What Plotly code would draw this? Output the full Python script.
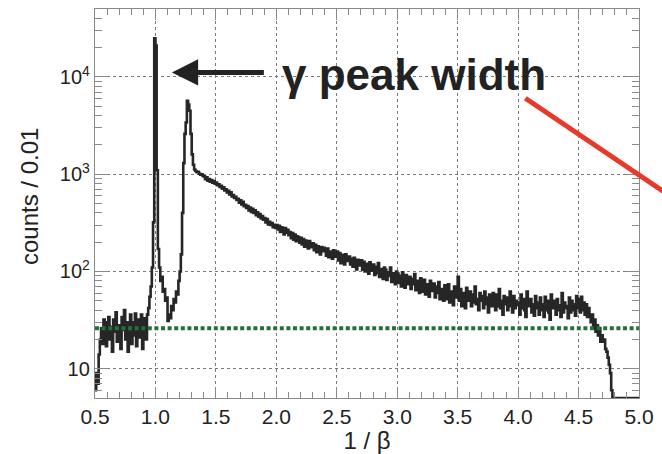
import numpy as np
import plotly.graph_objects as go

# ---------------- data ----------------
BIN_START = 0.50
BIN_WIDTH = 0.01
# counts per 0.01 bin of 1/beta, bins from 0.50 to 5.00 (450 bins)
counts = [
    # 0.50
    6, 9, 7, 14, 20, 26, 18, 32, 22, 17,
    # 0.60
    30, 34, 20, 27, 15, 32, 24, 38, 19, 28,
    # 0.70
    22, 16, 34, 25, 40, 20, 30, 15, 28, 36,
    # 0.80
    18, 30, 22, 37, 17, 32, 21, 29, 36, 16,
    # 0.90
    28, 33, 20, 36, 42, 55, 70, 110, 320, 25000,
    # 1.00
    21000, 1100, 170, 110, 80, 88, 62, 66, 50, 54,
    # 1.10
    31, 36, 33, 44, 40, 52, 48, 62, 58, 80,
    # 1.20
    100, 150, 400, 1300, 2600, 3400, 5700, 5200, 4500, 2600,
    # 1.30
    1600, 1250, 1120, 1080, 1050, 1060, 1010, 990, 1000, 960,
    # 1.40
    950, 890, 930, 860, 890, 840, 870, 820, 850, 800,
    # 1.50
    820, 770, 790, 740, 760, 710, 735, 680, 700, 650,
    # 1.60
    675, 620, 650, 590, 610, 570, 585, 545, 560, 510,
    # 1.70
    540, 490, 520, 470, 485, 450, 470, 425, 455, 410,
    # 1.80
    440, 400, 425, 380, 405, 365, 390, 350, 372, 340,
    # 1.90
    355, 320, 345, 305, 325, 300, 315, 285, 302, 280,
    # 2.00
    300, 270, 295, 255, 285, 262, 240, 280, 250, 268,
    # 2.10
    236, 255, 220, 248, 212, 240, 205, 230, 225, 198,
    # 2.20
    222, 190, 215, 180, 208, 196, 172, 205, 185, 178,
    # 2.30
    195, 165, 188, 158, 182, 170, 150, 178, 162, 175,
    # 2.40
    168, 145, 172, 140, 160, 152, 135, 165, 142, 155,
    # 2.50
    160, 130, 155, 122, 148, 138, 118, 150, 128, 140,
    # 2.60
    142, 118, 135, 112, 138, 122, 105, 132, 115, 128,
    # 2.70
    130, 104, 126, 100, 120, 110, 95, 124, 102, 115,
    # 2.80
    118, 92, 112, 96, 122, 88, 106, 98, 84, 110,
    # 2.90
    104, 82, 98, 90, 110, 78, 96, 86, 74, 100,
    # 3.00
    95, 76, 90, 70, 98, 82, 68, 92, 74, 86,
    # 3.10
    88, 66, 84, 74, 94, 64, 80, 70, 60, 85,
    # 3.20
    78, 62, 82, 58, 74, 68, 55, 80, 63, 72,
    # 3.30
    75, 54, 70, 60, 78, 52, 66, 58, 50, 72,
    # 3.40
    64, 52, 74, 48, 62, 58, 45, 70, 54, 60,
    # 3.50
    88, 50, 66, 44, 60, 56, 42, 68, 50, 58,
    # 3.60
    62, 44, 58, 48, 70, 46, 52, 40, 60, 50,
    # 3.70
    56, 42, 62, 46, 54, 38, 58, 48, 44, 60,
    # 3.80
    52, 40, 58, 44, 66, 42, 50, 36, 56, 46,
    # 3.90
    54, 40, 48, 62, 44, 38, 56, 42, 50, 45,
    # 4.00
    48, 36, 58, 42, 52, 40, 34, 62, 44, 50,
    # 4.10
    52, 38, 46, 35, 56, 42, 48, 36, 54, 40,
    # 4.20
    46, 34, 55, 40, 50, 38, 32, 58, 42, 48,
    # 4.30
    50, 36, 52, 40, 45, 34, 60, 38, 48, 42,
    # 4.40
    44, 33, 54, 38, 50, 40, 46, 35, 56, 42,
    # 4.50
    52, 38, 55, 40, 48, 36, 46, 34, 42, 36,
    # 4.60
    30, 36, 26, 32, 24, 28, 22, 26, 19, 22,
    # 4.70
    19, 20, 16, 15, 13, 11, 9, 6, 0, 0,
    # 4.80
    0, 0, 0, 0, 0, 0, 0, 0, 0, 0,
    # 4.90
    0, 0, 0, 0, 0, 0, 0, 0, 0, 0,
]
threshold = 26          # green dotted level
x_tickvals = [0.5, 1.0, 1.5, 2.0, 2.5, 3.0, 3.5, 4.0, 4.5, 5.0]
x_ticktext = ["0.5", "1.0", "1.5", "2.0", "2.5", "3.0", "3.5", "4.0", "4.5", "5.0"]
y_tickvals = [10, 100, 1000, 10000]
y_ticktext = ["10", "10<sup>2</sup>", "10<sup>3</sup>", "10<sup>4</sup>"]
annotation_text = "γ peak width"
x_title = "1 / β"
y_title = "counts / 0.01"

# ---------------- figure ----------------
X_MIN, X_MAX = 0.5, 5.0
Y_MIN, Y_MAX = 5, 50000

n = len(counts)
edges = np.round(BIN_START + BIN_WIDTH * np.arange(n + 1), 4)
vals = np.array(counts, dtype=float)
vals = np.where(vals > 0, vals, Y_MIN)      # empty bins drawn on the floor (ROOT style)
step_y = np.append(vals, vals[-1])

FONT = "Liberation Sans, Arial, Helvetica, sans-serif"
AX_COL = "#8a8a8a"
TXT = "#222222"

fig = go.Figure()
fig.add_trace(go.Scatter(
    x=edges, y=step_y, mode="lines", line=dict(shape="hv", color="#262626", width=2.6),
    hoverinfo="skip", showlegend=False))
fig.add_trace(go.Scatter(
    x=[X_MIN, X_MAX], y=[threshold, threshold], mode="lines",
    line=dict(color="#25703a", width=4, dash="4px,2.6px"),
    hoverinfo="skip", showlegend=False))

axis_common = dict(
    showline=True, linecolor=AX_COL, linewidth=1.3, mirror="ticks",
    ticks="inside", tickcolor=AX_COL, tickwidth=1.2,
    showgrid=True, gridcolor="#7a7a7a", griddash="dot", gridwidth=1,
    zeroline=False,
)

fig.update_xaxes(
    **axis_common, range=[X_MIN, X_MAX], tickmode="array",
    tickvals=x_tickvals, ticktext=x_ticktext, ticklen=11,
    tickfont=dict(family=FONT, size=21, color=TXT),
    minor=dict(dtick=0.1, ticks="inside", ticklen=6, tickcolor=AX_COL, tickwidth=1.2, showgrid=False),
    title=dict(text=x_title, font=dict(family=FONT, size=24, color=TXT), standoff=1),
)
fig.update_yaxes(
    **axis_common, type="log", range=[np.log10(Y_MIN), np.log10(Y_MAX)], tickmode="array",
    tickvals=y_tickvals, ticktext=y_ticktext, ticklen=13,
    tickfont=dict(family=FONT, size=20, color=TXT),
    minor=dict(dtick="D1", ticks="inside", ticklen=7, tickcolor=AX_COL, tickwidth=1.2, showgrid=False),
)

# y-axis title placed as rotated text
fig.add_annotation(
    xref="paper", yref="paper", x=(28 - 95) / 552, y=(399 - 196) / 391,
    xanchor="center", yanchor="middle", textangle=-90, text=y_title, showarrow=False,
    font=dict(family=FONT, size=24, color=TXT),
)
# arrow
fig.add_annotation(
    xref="paper", yref="paper", x=0.1413, y=0.837, text=" ",
    showarrow=True, arrowhead=2, arrowsize=1.05, arrowwidth=5, arrowcolor=TXT,
    ax=95, ay=0, standoff=0,
)
# label
fig.add_annotation(
    xref="paper", yref="paper", x=(282.5 - 95) / 552, y=(399 - 74) / 391,
    xanchor="left", yanchor="middle", text="<b>" + annotation_text + "</b>",
    showarrow=False, font=dict(family=FONT, size=44, color=TXT),
)
# red line
fig.add_shape(
    type="line", xref="paper", yref="paper",
    x0=(531.7 - 95) / 552, y0=(399 - 97.7) / 391,
    x1=(680 - 95) / 552, y1=(399 - 197) / 391,
    line=dict(color="#e8392b", width=5),
)

fig.update_layout(
    width=662, height=454,
    margin=dict(l=95, r=15, t=8, b=55),
    paper_bgcolor="white", plot_bgcolor="white",
    font=dict(family=FONT, color=TXT),
    showlegend=False,
)

fig.write_html("out.html")
